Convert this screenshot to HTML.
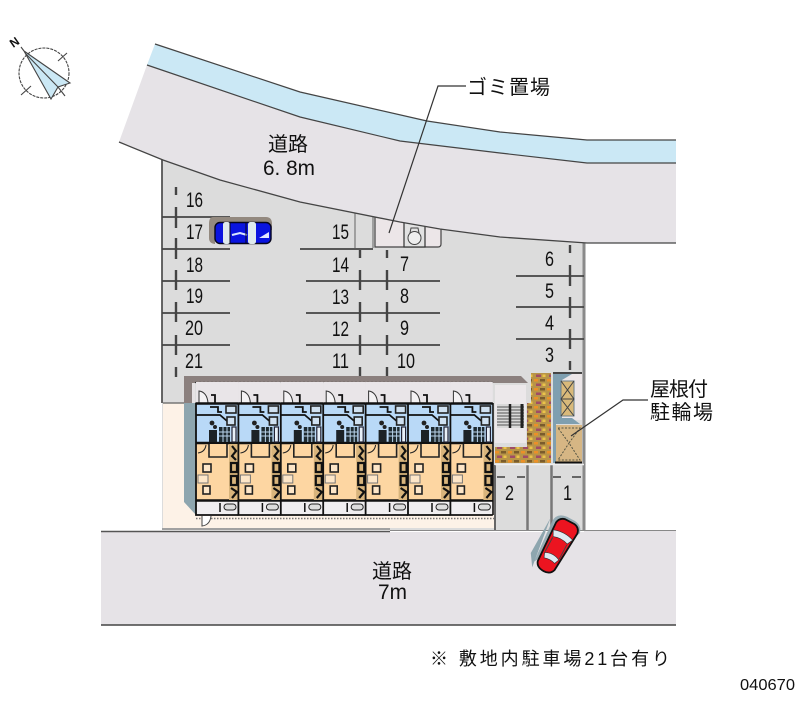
<!DOCTYPE html>
<html><head><meta charset="utf-8"><style>
html,body{margin:0;padding:0;background:#fff;width:800px;height:727px;overflow:hidden}
svg{display:block}
text{font-family:"Liberation Sans","Noto Sans CJK JP",sans-serif;fill:#111}
.n{font-size:21px}
.j{font-size:20px}
</style></head><body>
<svg width="800" height="727" viewBox="0 0 800 727" xmlns="http://www.w3.org/2000/svg">
<defs>
<g id="u">
<rect x="0" y="382" width="42.4" height="21" fill="#e9e5e8"/>
<path d="M3 403V391Q11 392 12 403" fill="#f4f2f4" stroke="#333"/>
<rect x="0" y="403" width="42.4" height="40" fill="#b9d9f7"/>
<rect x="0" y="444" width="42.4" height="56" fill="#fdd6a2"/>
<rect x="0" y="501" width="42.4" height="14" fill="#f0eef0"/>
<path d="M0 403.5H42.4M0 443H42.4M0 500.5H42.4" stroke="#111" stroke-width="2.6" fill="none"/>
<path d="M0 403V515H42.4" stroke="#111" stroke-width="1.8" fill="none"/>
<path d="M15 395h4v8M14 407h8v5h4M0 415H24l7 6" stroke="#111" stroke-width="1.8" fill="none"/>
<rect x="30" y="406" width="10" height="7" fill="#cfe0f0" stroke="#222" stroke-width="1.6"/>
<rect x="31" y="417" width="8" height="8" fill="#cfe0f0" stroke="#222" stroke-width="1.6"/>
<circle cx="16" cy="423" r="2.4" fill="#222"/>
<circle cx="19" cy="427" r="2" fill="#222"/>
<rect x="13" y="430" width="8" height="12" fill="#1c2226"/>
<rect x="23" y="427" width="11" height="15" fill="#1e2a30"/>
<path d="M27 427v15M31 427v15M23 432h11M23 436h11" stroke="#b9d4ec" stroke-width="1"/>
<rect x="36" y="427" width="4" height="15" fill="#e8f0f8" stroke="#223" stroke-width="1.200"/>
<path d="M2 453Q9 452 10 445" fill="none" stroke="#222"/>
<path d="M13 444V457H31V444" fill="#fdd6a2" stroke="#222" stroke-width="1.6"/>
<rect x="7" y="464" width="8" height="8" fill="#fde6c8" stroke="#222" stroke-width="1.6"/>
<rect x="2" y="475" width="10" height="8" fill="#fde6c8" stroke="#777"/>
<rect x="7" y="486" width="7" height="8" fill="#fde6c8" stroke="#222" stroke-width="1.6"/>
<rect x="33" y="444" width="9" height="56" fill="#d8b47c"/>
<path d="M36 446l4 5-4 5 4 4M35 463h6v9h-6zM35 476h6v9h-6zM35 488l6 4-5 6" fill="none" stroke="#111" stroke-width="2.200"/>
<path d="M24 503v9" stroke="#111" stroke-width="1.5"/>
<rect x="28" y="504" width="12" height="6" rx="3" fill="#ddd" stroke="#222"/>
</g>
<pattern id="br" width="13" height="9" patternUnits="userSpaceOnUse">
<rect width="13" height="9" fill="#b89448"/>
<rect x="1" y="1" width="4" height="2.500" fill="#ec9028"/>
<rect x="7" y="1" width="5" height="2.500" fill="#7a5c2c"/>
<rect x="3" y="5.500" width="5" height="2.500" fill="#a04c66"/>
<rect x="9.500" y="5.500" width="3" height="2.500" fill="#ecc34a"/>
</pattern>
</defs>

<!-- lot -->
<rect x="162" y="155" width="422" height="375" fill="#dcdcdc"/>
<path d="M162 155V403" stroke="#555" stroke-width="1.800"/>
<path d="M584 243V530" stroke="#8a8a8a" stroke-width="3"/>

<!-- trash area -->
<path d="M375 212H441V244Q441 247 438 247H375Z" fill="#ece6e8" stroke="#444" stroke-width="1.200"/>
<rect x="404" y="212" width="21" height="35" fill="#e2e2e2" stroke="#333" stroke-width="1.200"/>
<circle cx="414.500" cy="238" r="6.500" fill="#eee" stroke="#444"/>
<path d="M410 233l1-5h7l1 5" fill="none" stroke="#444"/>
<path d="M355 212V248M373 212V248" stroke="#777" stroke-width="1.200"/>

<!-- top road -->
<path d="M155 44L300 92L427 121L500 132L587 140H676V163H587L500 153L400 141L300 117L147 65Z" fill="#cbe8f5"/>
<path d="M147 65L300 117L400 141L500 153L587 163H676V243H587L500 237L440 229L400 222L300 202L220 180L163 160L119 142Z" fill="#e6e3e7"/>
<path d="M155 44L300 92L427 121L500 132L587 140H676M147 65L300 117L400 141L500 153L587 163H676" fill="none" stroke="#444" stroke-width="1.200"/>
<path d="M119 142L163 160L220 180L300 202L400 222L440 229L500 237L587 243H676" fill="none" stroke="#444" stroke-width="1.300"/>

<!-- bottom road -->
<path d="M101 532H584V530H676V625H101Z" fill="#e6e3e7"/>
<path d="M101 531.500H390" stroke="#555" stroke-width="1.500"/>
<path d="M162 529H390" stroke="#666" stroke-width="1"/>
<path d="M390 530.500H676" stroke="#888" stroke-width="1"/>
<path d="M101 625H676" stroke="#444" stroke-width="1.500"/>

<!-- parking lines -->
<g stroke="#444" stroke-width="1.800" fill="none">
<path d="M162 217H230M162 249H230M162 281H230M162 313H230M162 345H230"/>
<path d="M300 249H373M306 281H440M306 313H440M306 345H440"/>
<path d="M516 276H584M516 307H584M516 339H584"/>
<path d="M176 187V195M176 207V228M176 238V259M176 270V290M176 302V322M176 335V355M176 367V377" stroke-width="2.400"/>
<path d="M360 250V258M360 270V290M360 302V322M360 335V355M360 367V377" stroke-width="2.400"/>
<path d="M387 250V258M387 270V290M387 302V322M387 335V355M387 367V377" stroke-width="2.400"/>
<path d="M570 245V253M570 265V286M570 297V318M570 329V349M570 361V370" stroke-width="2.400"/>
</g>

<!-- site/building base -->
<rect x="163" y="403" width="331" height="125" fill="#fdf2e7"/>
<path d="M163 403H196" stroke="#777" stroke-width="1.500"/>
<rect x="184" y="381" width="11" height="22" fill="#e6e2e4"/>
<path d="M184 403H196V515L184 502Z" fill="#8ea6af"/>
<path d="M184 376H521L528 383H192V403H184Z" fill="#8b807e"/>
<path d="M195 382.500H494" stroke="#333" stroke-width="1.200" stroke-dasharray="2 2"/>
<use href="#u" x="196"/><use href="#u" x="238.400"/><use href="#u" x="280.800"/><use href="#u" x="323.200"/><use href="#u" x="365.600"/><use href="#u" x="408"/><use href="#u" x="450.400"/>
<path d="M493 403V515" stroke="#111" stroke-width="1.600"/>
<path d="M196 518.500H494" stroke="#777" stroke-width="1.400" stroke-dasharray="1.500 1.500"/>
<path d="M202 516V526Q210 525 211 516" fill="#fff" stroke="#444"/>

<!-- stairs -->
<rect x="495" y="385" width="31" height="58" fill="#ece8ea"/>
<rect x="497" y="404" width="27" height="24" fill="#d9d9d9"/>
<path d="M497 407H524M497 410H524M497 413H524M497 416H524M497 419H524M497 422H524M497 425H524" stroke="#555"/>
<path d="M510 404V428" stroke="#222" stroke-width="2.500"/>
<path d="M522 404V428" stroke="#222" stroke-width="3"/>

<!-- brick -->
<path d="M531 373H551V447H527V403H531ZM495 447H551V463H495Z" fill="url(#br)"/>

<!-- bike storage -->
<rect x="553" y="373" width="29" height="47" fill="#ece6e8"/>
<path d="M553 373H582" stroke="#111" stroke-width="1.500"/>
<path d="M553 374H572L562 380V418H553Z" fill="#7f9fb0"/>
<rect x="561" y="381" width="13" height="35" fill="#d9b97a" stroke="#6d7f88"/>
<path d="M561 381L574 399L561 416M574 381L561 399L574 416M561 399H574" stroke="#444" fill="none"/>
<path d="M553 418H572L580 424H553Z" fill="#7f9fb0"/>
<rect x="553" y="424" width="3" height="39" fill="#7f9fb0"/>
<rect x="556" y="425" width="26" height="37" fill="#d6b684"/>
<path d="M558 428H580L569 443L580 460H558L569 443Z" fill="none" stroke="#554" stroke-dasharray="2 1.500"/>
<path d="M555 462.500H582" stroke="#111" stroke-width="2"/>

<!-- spaces 1,2 -->
<path d="M495 465V530" stroke="#666" stroke-width="2"/>
<path d="M527.500 465V530M551.500 465V530" stroke="#777" stroke-width="2.500"/>
<path d="M495 464.500H584" stroke="#eee" stroke-width="1.500"/>
<path d="M497 477H505M517 477H525M553 477H561M572 477H581" stroke="#555" stroke-width="1.800"/>

<!-- leaders -->
<path d="M389 233L438 86H466" fill="none" stroke="#333" stroke-width="1.200"/>
<path d="M571 436L623 400H648" fill="none" stroke="#333" stroke-width="1.200"/>

<!-- compass -->
<g fill="none" stroke="#444" stroke-width="1.100">
<circle cx="44" cy="73" r="25" stroke-dasharray="3 1"/>
<path d="M24 51L70 83L58 87L51 99Z" fill="#cbe8f5"/>
<path d="M26 54L58 87M58 87L65 96M21 95L31 86M58 61L67 53M21 47L24 51"/>
</g>
<text x="15" y="42" transform="rotate(-35 15 42) translate(-5 4)" style="font-size:12px;font-weight:bold">N</text>

<!-- blue car -->
<path d="M213 217H266Q272 217 272 224V230H215V244H216Q209 244 209 238V224Q209 217 213 217Z" fill="#93897f"/>
<rect x="215" y="222.500" width="56" height="21" rx="5" fill="#0a14e0" stroke="#05051f" stroke-width="1.400"/>
<rect x="223" y="222" width="7" height="22" rx="2.500" fill="#dfeaee"/>
<rect x="248" y="222" width="8" height="22" rx="2.500" fill="#dfeaee"/>
<path d="M232 235L240 233L247 235" stroke="#d8e6ff" stroke-width="2" fill="none"/>
<path d="M259 238L269 232V238Z" fill="#e4e8ff"/>
<path d="M230 223V243M246 223V243" stroke="#05051f" stroke-width="1"/>

<!-- red car -->
<g transform="translate(556 546) rotate(28)">
<path d="M-15 -20Q-15 -30 -4 -31H5Q14 -30 15 -22L-12 24Z" fill="#8ea6af" opacity=".9"/>
<path d="M-18 -22L-19 18L-11 30Z" fill="#8ea6af"/>
<path d="M-11 -21Q-10 -27 -4 -28H6Q12 -27 13 -21L10 22Q8 28 1 28Q-7 28 -9 22Z" fill="#ec1420" stroke="#111" stroke-width="1.800"/>
<path d="M-10 -13Q1 -17 12 -13L9 -7Q1 -10 -7 -7Z" fill="#dfeaf2" stroke="#333" stroke-width=".6"/>
<path d="M-7 11Q1 7 9 11L7 16Q1 14 -5 16Z" fill="#dfeaf2" stroke="#333" stroke-width=".6"/>
<path d="M-7 -6V10M9 -6V10" stroke="#444" stroke-width="1"/>
</g>

<!-- labels -->
<g>
<text class="n" x="186" y="207" textLength="17" lengthAdjust="spacingAndGlyphs">16</text>
<text class="n" x="186" y="239" textLength="17" lengthAdjust="spacingAndGlyphs">17</text>
<text class="n" x="186" y="272" textLength="17" lengthAdjust="spacingAndGlyphs">18</text>
<text class="n" x="186" y="303" textLength="17" lengthAdjust="spacingAndGlyphs">19</text>
<text class="n" x="185" y="335" textLength="18" lengthAdjust="spacingAndGlyphs">20</text>
<text class="n" x="185" y="368" textLength="18" lengthAdjust="spacingAndGlyphs">21</text>
<text class="n" x="332" y="239" textLength="17" lengthAdjust="spacingAndGlyphs">15</text>
<text class="n" x="332" y="272" textLength="17" lengthAdjust="spacingAndGlyphs">14</text>
<text class="n" x="332" y="304" textLength="17" lengthAdjust="spacingAndGlyphs">13</text>
<text class="n" x="332" y="336" textLength="17" lengthAdjust="spacingAndGlyphs">12</text>
<text class="n" x="332" y="368" textLength="17" lengthAdjust="spacingAndGlyphs">11</text>
<text class="n" x="400" y="271" textLength="9" lengthAdjust="spacingAndGlyphs">7</text>
<text class="n" x="400" y="303" textLength="9" lengthAdjust="spacingAndGlyphs">8</text>
<text class="n" x="400" y="335" textLength="9" lengthAdjust="spacingAndGlyphs">9</text>
<text class="n" x="397" y="368" textLength="18" lengthAdjust="spacingAndGlyphs">10</text>
<text class="n" x="545" y="266" textLength="9" lengthAdjust="spacingAndGlyphs">6</text>
<text class="n" x="545" y="298" textLength="9" lengthAdjust="spacingAndGlyphs">5</text>
<text class="n" x="545" y="330" textLength="9" lengthAdjust="spacingAndGlyphs">4</text>
<text class="n" x="545" y="362" textLength="9" lengthAdjust="spacingAndGlyphs">3</text>
<text class="n" x="505" y="500" textLength="9" lengthAdjust="spacingAndGlyphs">2</text>
<text class="n" x="563" y="500" textLength="9" lengthAdjust="spacingAndGlyphs">1</text>
</g>
<text class="j" x="268" y="151">道路</text>
<text x="263" y="175" style="font-size:21px" textLength="52" lengthAdjust="spacingAndGlyphs">6. 8m</text>
<text class="j" x="372" y="578">道路</text>
<text x="378" y="599" style="font-size:21px" textLength="29" lengthAdjust="spacingAndGlyphs">7m</text>
<text class="j" x="467" y="94" textLength="83" lengthAdjust="spacing">ゴミ置場</text>
<text class="j" x="650" y="396" textLength="58" lengthAdjust="spacing">屋根付</text>
<text class="j" x="650" y="419" textLength="63" lengthAdjust="spacing">駐輪場</text>
<text x="430" y="665" style="font-size:18px" textLength="240" lengthAdjust="spacing">※ 敷地内駐車場21台有り</text>
<text x="740" y="690" style="font-size:16px" textLength="55" lengthAdjust="spacingAndGlyphs">040670</text>
</svg>
</body></html>
